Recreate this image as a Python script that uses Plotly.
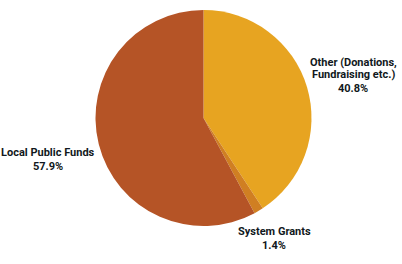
import plotly.graph_objects as go

labels = ["Other (Donations,<br>Fundraising etc.)", "System Grants", "Local Public Funds"]
values = [40.8, 1.4, 57.9]
colors = ["#E7A421", "#D07F22", "#B55426"]

W, H = 402, 264
cx, cy, r = 203.5, 118, 108

fig = go.Figure(go.Pie(
    labels=labels, values=values, sort=False, direction="clockwise", rotation=0,
    marker=dict(colors=colors, line=dict(width=0)),
    textinfo="none", hoverinfo="label+percent", showlegend=False,
    domain=dict(x=[(cx - r) / W, (cx + r) / W], y=[(H - cy - r) / H, (H - cy + r) / H]),
))

# top-line centre position of each label block (pixels)
label_pos = [(353, 62), (274, 231), (48, 152)]
line_h = 12.5
for lab, val, (x, y) in zip(labels, values, label_pos):
    lines = lab.split("<br>") + [f"{val}%"]
    for i, ln in enumerate(lines):
        yy = y + i * line_h + (1.5 if i == len(lines) - 1 else 0)
        fig.add_annotation(
            x=x / W, y=1 - yy / H, xref="paper", yref="paper", showarrow=False,
            text=f"<b>{ln}</b>", align="center",
            font=dict(family="Roboto", size=11, color="#111820"),
            xanchor="center", yanchor="middle",
        )

fig.update_layout(width=W, height=H, margin=dict(l=0, r=0, t=0, b=0),
                  paper_bgcolor="white", plot_bgcolor="white")
fig.write_html("out.html")
